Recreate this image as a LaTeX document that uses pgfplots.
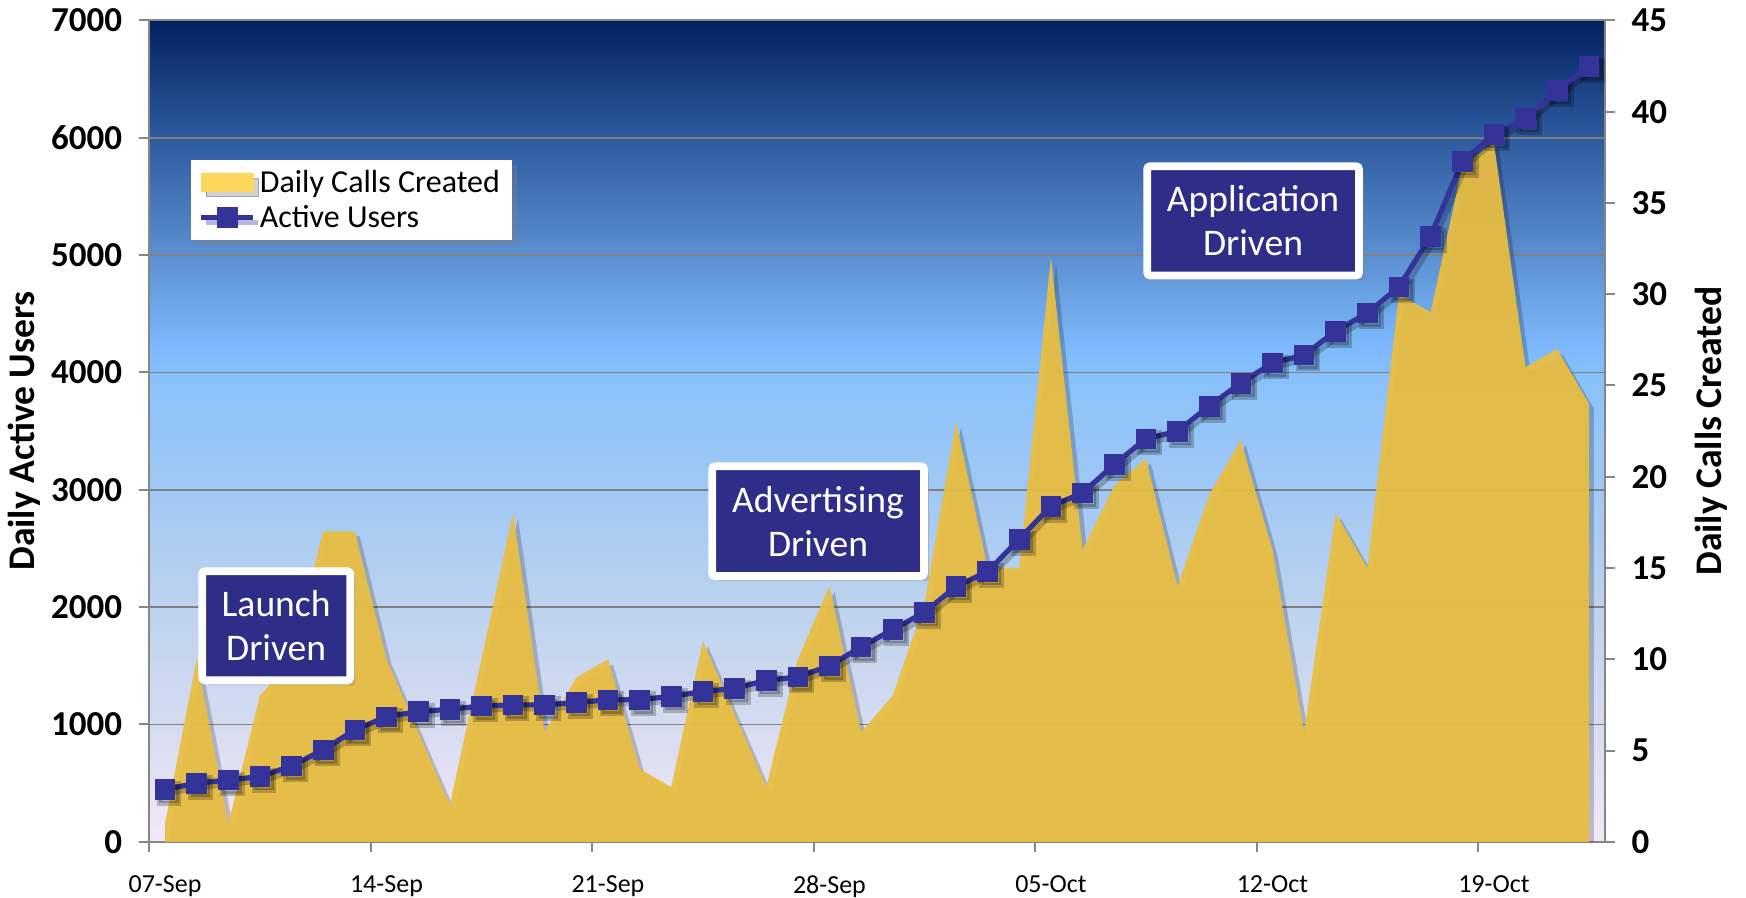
\documentclass[border=0pt]{standalone}
\usepackage{pgfplots}
\pgfplotsset{compat=1.18}
\usepackage{pgfplotstable}
\usepackage{fontspec}
\setmainfont{Carlito}
\usetikzlibrary{shadows}

\definecolor{areaY}{RGB}{233,190,66}
\definecolor{legY}{RGB}{255,214,92}
\definecolor{lineB}{RGB}{51,51,153}
\definecolor{boxB}{RGB}{46,45,136}
\definecolor{gridG}{RGB}{128,128,128}
\definecolor{axG}{RGB}{134,134,134}
\definecolor{cA}{RGB}{243,232,248}
\definecolor{cB}{RGB}{214,220,240}
\definecolor{cC}{RGB}{188,210,238}
\definecolor{cD}{RGB}{160,200,244}
\definecolor{cE}{RGB}{140,195,250}
\definecolor{cF}{RGB}{126,186,252}
\definecolor{cG}{RGB}{92,145,210}
\definecolor{cH}{RGB}{45,90,158}
\definecolor{cI}{RGB}{2,33,96}

\pgfdeclareverticalshading{bgshade}{100bp}{color(0bp)=(cA); color(25bp)=(cA); color(32bp)=(cB); color(39.5bp)=(cC); color(46.5bp)=(cD); color(52.5bp)=(cE); color(55bp)=(cF); color(60.5bp)=(cG); color(68bp)=(cH); color(75bp)=(cI); color(100bp)=(cI)}

\pgfplotsset{
  linelegend/.style={legend image code/.code={\draw[mark repeat=2, mark phase=2, ##1] plot coordinates {(0pt,0pt) (13pt,0pt) (26pt,0pt)};}},
  arealegend/.style={legend image code/.code={\fill[legY] (0pt,-4.4pt) rectangle (26pt,4.4pt);}},
}

\pgfplotstableread{
d users
0 447
1 499
2 527
3 555
4 646
5 783
6 953
7 1066
8 1110
9 1129
10 1157
11 1167
12 1167
13 1186
14 1210
15 1210
16 1240
17 1280
18 1308
19 1375
20 1405
21 1499
22 1660
23 1808
24 1955
25 2175
26 2303
27 2579
28 2860
29 2973
30 3214
31 3435
32 3498
33 3713
34 3909
35 4080
36 4148
37 4352
38 4506
39 4728
40 5160
41 5798
42 6026
43 6163
44 6402
45 6610
}\usersdata

\pgfplotstableread{
d calls
0 1
1 10
2 1
3 8
4 10
5 17
6 17
7 10
8 6
9 2
10 10
11 18
12 6
13 9
14 10
15 4
16 3
17 11
18 7
19 3
20 10
21 14
22 6
23 8
24 13
25 23
26 15
27 15
28 32
29 16
30 19.5
31 21
32 14
33 19
34 22
35 16
36 6
37 18
38 15
39 30
40 29
41 37
42 38.3
43 26
44 27
45 24
}\callsdata

\tikzset{anno/.style={fill=boxB, draw=white, line width=3.9pt, text=white, align=center, inner sep=0pt,
  font=\fontsize{18.8}{22}\selectfont, rounded corners=1.5pt,
  drop shadow={shadow xshift=2.5pt, shadow yshift=-2.5pt, opacity=0.35}}}

\begin{document}
\begin{tikzpicture}
\useasboundingbox (-74.6pt,-28.1pt) rectangle (798.4pt,420.9pt);
\begin{axis}[
  scale only axis, width=727.7pt, height=410.7pt,
  at={(0pt,0pt)}, anchor=south west,
  xmin=-0.5, xmax=45.5, ymin=0, ymax=45,
  axis background/.style={shading=bgshade},
  axis line style={draw=axG, line width=1pt},
  ytick={0,5,...,45}, yticklabels={0,5,10,15,20,25,30,35,40,45},
  ytick pos=right, yticklabel pos=right,
  xtick={-0.5,6.5,13.5,20.5,27.5,34.5,41.5},
  xticklabels={07-Sep,14-Sep,21-Sep,28-Sep,05-Oct,12-Oct,19-Oct},
  xtick pos=bottom,
  xticklabel style={xshift=7.91pt, yshift=-8.3pt, font=\fontsize{13}{15}\selectfont},
  yticklabel style={xshift=5pt, font=\fontsize{17.5}{19}\selectfont\bfseries},
  tick align=outside, major tick length=5pt,
  tick style={draw=axG, line width=1pt},
  extra y ticks={6.428571,12.857143,19.285714,25.714286,32.142857,38.571429},
  extra y tick labels={},
  extra y tick style={grid=major, major grid style={draw=gridG, line width=0.8pt}, tick style={draw=none}},
  ylabel={Daily Calls Created},
  ylabel style={at={(axis description cs:1.0735,0.5)}, anchor=center, font=\fontsize{18.8}{20}\selectfont\bfseries},
]
\addplot[fill=black, fill opacity=0.2, draw=none, xshift=2.5pt, yshift=-2.5pt] table[x=d, y=calls] {\callsdata} \closedcycle;
\addplot[fill=areaY, fill opacity=0.94, draw=none] table[x=d, y=calls] {\callsdata} \closedcycle;
\end{axis}

\begin{axis}[
  scale only axis, width=727.7pt, height=410.7pt,
  at={(0pt,0pt)}, anchor=south west,
  xmin=-0.5, xmax=45.5, ymin=0, ymax=7000,
  axis y line*=left, axis x line=none,
  axis line style={draw=axG, line width=1pt},
  ytick={0,1000,...,7000}, yticklabels={0,1000,2000,3000,4000,5000,6000,7000},
  tick align=outside, major tick length=5pt,
  tick style={draw=axG, line width=1pt},
  yticklabel style={xshift=-5pt, font=\fontsize{17.5}{19}\selectfont\bfseries},
  ylabel={Daily Active Users},
  ylabel style={at={(axis description cs:-0.0858,0.5)}, anchor=center, font=\fontsize{18.8}{20}\selectfont\bfseries},
  legend style={at={(axis description cs:0.0282,0.8308)}, anchor=north west, draw=none, fill=white,
    font=\fontsize{16}{18}\selectfont, inner xsep=4pt, inner ysep=3pt, row sep=1pt,
    drop shadow={shadow xshift=2.5pt, shadow yshift=-2.5pt, opacity=0.35}},
  legend cell align=left,
]
\addlegendimage{arealegend}
\addlegendentry{Daily Calls Created}
\addplot[black, opacity=0.22, line width=2.6pt, mark=square*, mark size=4.9pt, xshift=2pt, yshift=-2pt, forget plot] table[x=d, y=users] {\usersdata};
\addplot[lineB, line width=2.6pt, mark=square*, mark size=4.9pt, mark options={line width=0.4pt, fill=lineB}, linelegend] table[x=d, y=users] {\usersdata};
\addlegendentry{Active Users}

\node[anno, minimum width=74pt, minimum height=54.6pt] at (axis cs:3.514,1841) {Launch\\Driven};
\node[anno, minimum width=105.9pt, minimum height=54.9pt] at (axis cs:20.64,2732) {Advertising\\Driven};
\node[anno, minimum width=105.9pt, minimum height=54.6pt] at (axis cs:34.39,5292) {Application\\Driven};
\end{axis}
\end{tikzpicture}
\end{document}
